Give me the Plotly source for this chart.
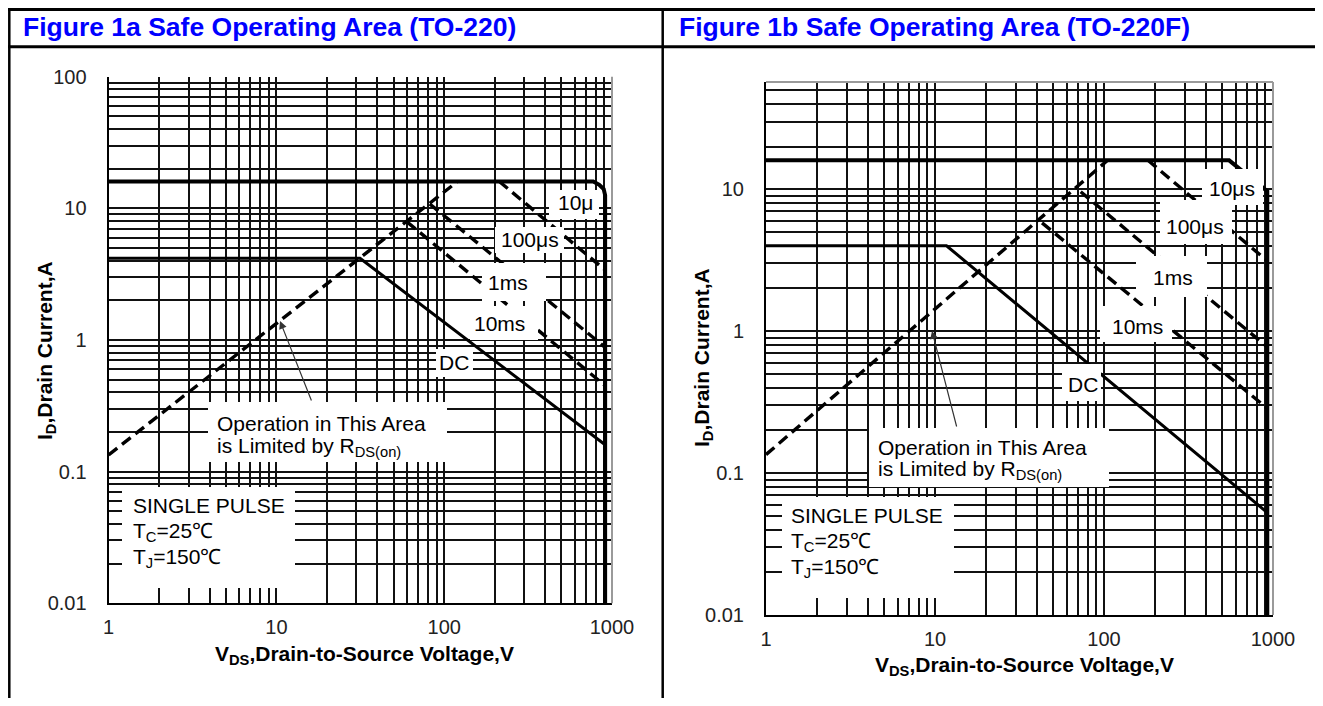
import plotly.graph_objects as go

# The page body keeps an 8 px margin, so the figure is sized to fit exactly
# inside the 1323x706 window; reference pixel positions are shifted by 8 px.
OFF = 8
FW, FH = 1323 - 2 * OFF, 706 - 2 * OFF
FONT = "Liberation Sans, Arial, Helvetica, sans-serif"

# ---------------- data ----------------
# Figure 1a  (TO-220)
a_lim_v = [1, 773, 840, 892, 910, 910]
a_lim_i = [16, 16, 15.1, 14.0, 12.6, 0.01]
a_100us_v = [213, 910]
a_100us_i = [16, 3.4]
a_1ms_v = [82, 910]
a_1ms_i = [10.8, 0.88]
a_10ms_v = [60, 910]
a_10ms_i = [7.9, 0.45]
a_dc_v = [1, 31.5, 910]
a_dc_i = [4.17, 4.17, 0.16]
a_rds_v = [1, 120]
a_rds_i = [0.134, 16]

# Figure 1b  (TO-220F)
b_lim_v = [1, 550, 925, 925]
b_lim_i = [16, 16, 9.7, 0.01]
b_100us_v = [182, 925]
b_100us_i = [16, 3.13]
b_1ms_v = [72.8, 925]
b_1ms_i = [9.6, 0.774]
b_10ms_v = [43, 925]
b_10ms_i = [5.8, 0.286]
b_dc_v = [1, 11.7, 925]
b_dc_i = [4.0, 4.0, 0.0527]
b_rds_v = [1, 105]
b_rds_i = [0.135, 16]

# ticks / grid
x_major = [1, 10, 100, 1000]
x_major_text = ["1", "10", "100", "1000"]
x_minor = [2, 3, 4, 5, 6, 7, 8, 9, 20, 30, 40, 50, 60, 70, 80, 90,
           200, 300, 400, 500, 600, 700, 800, 900]
y_major = [0.01, 0.1, 1, 10, 100]
y_major_text = ["0.01", "0.1", "1", "10", "100"]
y_minor = [0.02, 0.03, 0.04, 0.05, 0.06, 0.07, 0.08, 0.09,
           0.2, 0.3, 0.4, 0.5, 0.6, 0.7, 0.8, 0.9,
           2, 3, 4, 5, 6, 7, 8, 9, 20, 30, 40, 50, 60, 70, 80, 90]

titles = ["Figure 1a Safe Operating Area (TO-220)", "Figure 1b Safe Operating Area (TO-220F)"]


def px(x):
    return (x - OFF) / FW


def py(y):
    return 1 - (y - OFF) / FH


fig = go.Figure()

DASH = "11px,6px"


def add_lines(xa, ya, lim, p100, p1m, p10m, dc, rds):
    common = dict(mode="lines", xaxis=xa, yaxis=ya, hoverinfo="skip")
    for d in (rds, p100, p1m, p10m):
        fig.add_trace(go.Scatter(x=d[0], y=d[1], line=dict(color="black", width=3.4, dash=DASH), **common))
    fig.add_trace(go.Scatter(x=dc[0], y=dc[1], line=dict(color="black", width=3), **common))
    fig.add_trace(go.Scatter(x=lim[0], y=lim[1], line=dict(color="black", width=4), **common))


add_lines("x", "y", (a_lim_v, a_lim_i), (a_100us_v, a_100us_i), (a_1ms_v, a_1ms_i),
          (a_10ms_v, a_10ms_i), (a_dc_v, a_dc_i), (a_rds_v, a_rds_i))
add_lines("x2", "y2", (b_lim_v, b_lim_i), (b_100us_v, b_100us_i), (b_1ms_v, b_1ms_i),
          (b_10ms_v, b_10ms_i), (b_dc_v, b_dc_i), (b_rds_v, b_rds_i))

GRID = "#111111"
axis_common = dict(type="log", showgrid=True, gridcolor=GRID, gridwidth=1.5,
                   showline=True, linecolor="black", linewidth=2, ticks="",
                   zeroline=False, automargin=False, fixedrange=True,
                   tickfont=dict(family=FONT, size=20, color="#222222"))
xminor = dict(tickmode="array", tickvals=x_minor, showgrid=True, gridcolor=GRID, gridwidth=1.5, ticks="")
yminor = dict(tickmode="array", tickvals=y_minor, showgrid=True, gridcolor=GRID, gridwidth=1.5, ticks="")

fig.update_layout(
    width=FW, height=FH, margin=dict(l=0, r=0, t=0, b=0, pad=0), autosize=False,
    paper_bgcolor="white", plot_bgcolor="white", showlegend=False,
    font=dict(family=FONT, color="black"),
    xaxis=dict(domain=[px(108.6), px(612)], range=[0, 3], anchor="y", tickmode="array",
               tickvals=x_major, ticktext=x_major_text, minor=xminor, ticklabelstandoff=5, **axis_common),
    yaxis=dict(domain=[py(603.3), py(76.7)], range=[-2, 2], anchor="x", tickmode="array",
               tickvals=y_major, ticktext=y_major_text, minor=yminor, ticklabelstandoff=16, **axis_common),
    xaxis2=dict(domain=[px(766), px(1273)], range=[0, 3], anchor="y2", tickmode="array",
                tickvals=x_major, ticktext=x_major_text, minor=xminor, ticklabelstandoff=5, **axis_common),
    yaxis2=dict(domain=[py(615), py(82)], range=[-2, 1.756], anchor="x2", tickmode="array",
                tickvals=y_major, ticktext=y_major_text, minor=yminor, ticklabelstandoff=16, **axis_common),
)

shapes = []


def box(x0, y0, x1, y1):
    shapes.append(dict(type="rect", xref="paper", yref="paper", x0=px(x0), x1=px(x1),
                       y0=py(y1), y1=py(y0), fillcolor="white", line=dict(width=0), layer="above"))


def line(x0, y0, x1, y1, w=2.5, c="black"):
    shapes.append(dict(type="line", xref="paper", yref="paper", x0=px(x0), x1=px(x1),
                       y0=py(y0), y1=py(y1), line=dict(color=c, width=w), layer="above"))


# label masks, Figure 1a
box(549, 190, 599, 219)      # 10us
box(495, 227, 564, 253)      # 100us
box(482, 263, 546, 301)      # 1ms
box(470, 306, 538, 340)      # 10ms
box(436, 349, 473, 377)      # DC
box(208, 402, 447, 462)      # operation note
box(122, 487, 295, 588)      # single pulse
# label masks, Figure 1b
box(1202, 169, 1263, 205)
box(1160, 200, 1232, 244)
box(1136, 256, 1207, 297)
box(1100, 306, 1172, 342)
box(1062, 364, 1101, 401)
box(869, 428, 1109, 487)
box(782, 497, 954, 598)

# gray plot frame (right / top)
line(612, 76.7, 612, 603.3, 2, "#9a9a9a")
line(1273, 82, 1273, 615, 2, "#9a9a9a")
line(766, 82, 1273, 82, 2, "#9a9a9a")

# table lines
line(OFF, 9.5, 1323, 9.5, 3)
line(OFF, 46.7, 1323, 46.7, 3)
line(9.3, OFF, 9.3, 706, 2.5)
line(662.7, OFF, 662.7, 706, 2.5)

fig.update_layout(shapes=shapes)

ann = []


def text(x, y, s, size=21, anchor="center", bold=False, color="black", angle=0):
    ann.append(dict(xref="paper", yref="paper", x=px(x), y=py(y), text=("<b>%s</b>" % s) if bold else s,
                    showarrow=False, xanchor=anchor, yanchor="middle", textangle=angle,
                    font=dict(family=FONT, size=size, color=color)))


# headers
text(21, 27, titles[0], size=26.5, anchor="left", bold=True, color="#0000ff")
text(677, 27, titles[1], size=26.5, anchor="left", bold=True, color="#0000ff")

# axis titles
for cx, cy in [(364, 655), (1024, 666)]:
    text(cx, cy, "V<sub>DS</sub>,Drain-to-Source Voltage,V", bold=True)
for cx, cy in [(46, 351), (703, 358)]:
    text(cx, cy, "I<sub>D</sub>,Drain Current,A", bold=True, angle=-90)

# curve labels
for (cx, cy, s) in [(575, 203, "10μ"), (530, 239, "100μs"), (508, 282, "1ms"), (500, 323, "10ms"), (454, 362, "DC"),
                    (1232, 189, "10μs"), (1195, 226, "100μs"), (1173, 277, "1ms"), (1137, 326, "10ms"),
                    (1083, 384, "DC")]:
    text(cx, cy, s)

# operation notes
text(215, 423, "Operation in This Area", anchor="left")
text(215, 447, "is Limited by R<sub>DS(on)</sub>", anchor="left")
text(876, 447, "Operation in This Area", anchor="left")
text(876, 470, "is Limited by R<sub>DS(on)</sub>", anchor="left")

# conditions
for lx, ys in [(130.5, (505, 532, 558)), (789, (515, 542, 568))]:
    text(lx, ys[0], "SINGLE PULSE", anchor="left")
    text(lx, ys[1], "T<sub>C</sub>=25℃", anchor="left")
    text(lx, ys[2], "T<sub>J</sub>=150℃", anchor="left")

# arrows
for (hx, hy, tx, ty) in [(280, 321, 312, 402), (932, 331, 957, 428)]:
    ann.append(dict(xref="paper", yref="paper", x=px(hx), y=py(hy), ax=tx - hx, ay=ty - hy,
                    showarrow=True, arrowhead=2, arrowsize=1.3, arrowwidth=1.2, arrowcolor="#333333",
                    text=""))

fig.update_layout(annotations=ann)

fig.write_html("out.html")
